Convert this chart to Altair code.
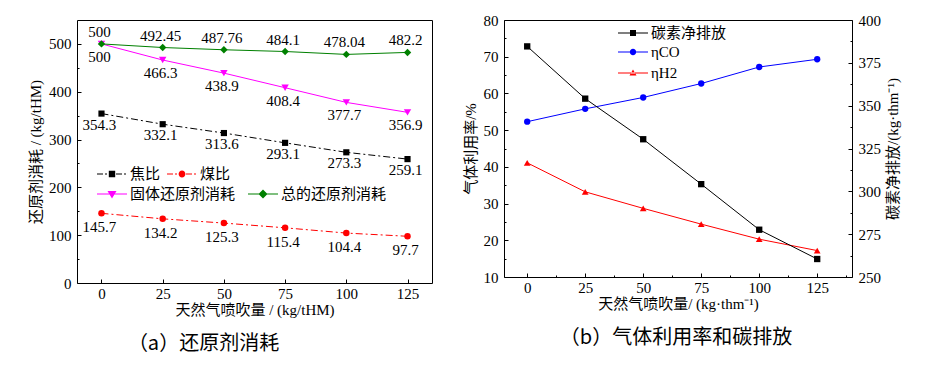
import math
import altair as alt
import pandas as pd

SERIF = "Liberation Serif"
CJK = "Noto Sans CJK SC"
MIX = "Liberation Serif, Noto Sans CJK SC"

# ---------------- data: panel (a) ----------------
ng = [0, 25, 50, 75, 100, 125]
coke_ratio = [354.3, 332.1, 313.6, 293.1, 273.3, 259.1]
coal_ratio = [145.7, 134.2, 125.3, 115.4, 104.4, 97.7]
solid_cons = [500, 466.3, 438.9, 408.4, 377.7, 356.9]
total_cons = [500, 492.45, 487.76, 484.1, 478.04, 482.2]
names_a = ["焦比", "煤比", "固体还原剂消耗", "总的还原剂消耗"]
yticks_a = [0, 100, 200, 300, 400, 500]
yminor_a = [50, 150, 250, 350, 450]

# ---------------- data: panel (b) ----------------
carbon_net = [384.6, 354.1, 330.4, 304.2, 277.6, 260.5]
eta_co = [52.3, 55.8, 58.9, 62.7, 67.2, 69.3]
eta_h2 = [41.1, 33.2, 28.7, 24.4, 20.3, 17.2]
names_b = ["碳素净排放", "ηCO", "ηH2"]
yticks_b_left = [10, 20, 30, 40, 50, 60, 70, 80]
yminor_b_left = [15, 25, 35, 45, 55, 65, 75]
yticks_b_right = [250, 275, 300, 325, 350, 375, 400]
yminor_b_right = [262.5, 287.5, 312.5, 337.5, 362.5, 387.5]
xminor_b = [12.5, 37.5, 62.5, 87.5, 112.5, 137.5]

# legend symbol geometry (pixel units inside a 30px symbol box)
R = 15.0


def u(p):
    return f"{p / R:.3f}"


def seg(x0, x1, h=0.55):
    return f"M{u(x0)},{u(-h)}H{u(x1)}V{u(h)}H{u(x0)}Z"


def poly(n, r, start=0.0):
    pts = []
    for i in range(n):
        a = start + 2 * math.pi * i / n
        pts.append(f"{u(r * math.cos(a))},{u(r * math.sin(a))}")
    return "M" + "L".join(pts) + "Z"


def square(h):
    return f"M{u(-h)},{u(-h)}H{u(h)}V{u(h)}H{u(-h)}Z"


SOLID = seg(-15, 15)
DASHDOT = seg(-15, -9) + seg(-7, -5) + seg(4, 10) + seg(12, 14)

style_a = {
    "焦比": dict(color="#000000", dash=[7, 3, 2, 3], shape="square", size=38, dy=11,
               leg=DASHDOT + square(3.2)),
    "煤比": dict(color="#FF0000", dash=[7, 3, 2, 3], shape="circle", size=42, dy=14,
               leg=DASHDOT + poly(16, 3.4)),
    "固体还原剂消耗": dict(color="#FF00FF", dash=None, shape="triangle-down", size=55, dy=13,
                    leg=SOLID + f"M{u(-4.5)},{u(-3)}H{u(4.5)}L0,{u(4.5)}Z"),
    "总的还原剂消耗": dict(color="#008000", dash=None, shape="diamond", size=55, dy=-12,
                    leg=SOLID + f"M0,{u(-4.5)}L{u(4.5)},0L0,{u(4.5)}L{u(-4.5)},0Z"),
}
style_b = {
    "碳素净排放": dict(color="#000000", shape="square", size=40, leg=SOLID + square(3), ly=-2),
    "ηCO": dict(color="#0000FF", shape="circle", size=40, leg=SOLID + poly(16, 3.2), ly=17),
    "ηH2": dict(color="#FF0000", shape="triangle-up", size=45,
                leg=SOLID + f"M{u(-3.5)},{u(2.6)}H{u(3.5)}L0,{u(-3.4)}Z", ly=38),
}

rows = []
for name, vals in zip(names_a, [coke_ratio, coal_ratio, solid_cons, total_cons]):
    for x, v in zip(ng, vals):
        rows.append({"x": x, "v": v, "s": name, "lab": f"{v:g}"})
df_a = pd.DataFrame(rows)

rows = []
for name, vals in zip(names_b, [carbon_net, eta_co, eta_h2]):
    for x, v in zip(ng, vals):
        rows.append({"x": x, "v": v, "s": name})
df_b = pd.DataFrame(rows)

MINOR = dict(labels=False, title=None, tickSize=2, offset=-2, domain=False, grid=False)


def legend_layer(df, names, style, x, y, lx, ly, col_pad=8, font=CJK):
    leg = alt.Legend(title=None, orient="none", legendX=lx, legendY=ly, direction="horizontal",
                     symbolSize=900, symbolStrokeWidth=0, symbolOpacity=1, labelFont=font,
                     labelFontSize=15, labelColor="black", labelOffset=3, columnPadding=col_pad)
    return alt.Chart(df).transform_filter("datum.x < -1000").mark_point(filled=True, opacity=1).encode(
        x=x, y=y,
        color=alt.Color("s:N", scale=alt.Scale(domain=names, range=[style[n]["color"] for n in names]),
                        legend=leg),
        shape=alt.Shape("s:N", scale=alt.Scale(domain=names, range=[style[n]["leg"] for n in names]),
                        legend=leg),
    )


# ---------------- panel (a) ----------------
sx_a = alt.Scale(domain=[-10, 135], nice=False, zero=False)
sy_a = alt.Scale(domain=[0, 550], nice=False, zero=False)
xa = alt.X("x:Q", scale=sx_a, axis=alt.Axis(values=ng, title="天然气喷吹量 / (kg/tHM)", orient="bottom"))
ya = alt.Y("v:Q", scale=sy_a, axis=alt.Axis(values=yticks_a, title="还原剂消耗 / (kg/tHM)", orient="left"))

layers_a = []
for name in names_a:
    st = style_a[name]
    base = alt.Chart(df_a).transform_filter(alt.datum.s == name)
    lk = dict(color=st["color"], strokeWidth=1)
    if st["dash"]:
        lk["strokeDash"] = st["dash"]
    layers_a.append(base.mark_line(**lk).encode(x=xa, y=ya))
    layers_a.append(base.mark_point(filled=True, opacity=1, color=st["color"], shape=st["shape"],
                                    size=st["size"]).encode(x=xa, y=ya))
    layers_a.append(base.mark_text(font=SERIF, fontSize=15, color="black", dx=-2, dy=st["dy"])
                    .encode(x=xa, y=ya, text="lab:N"))

legend_a = alt.layer(
    legend_layer(df_a, names_a[:2], style_a, xa, ya, 20, 139, 6),
    legend_layer(df_a, names_a[2:], style_a, xa, ya, 20, 159, 12),
).resolve_scale(color="independent", shape="independent")

minor_a = alt.Chart(df_a).transform_filter("datum.x < -1000").mark_point(opacity=0).encode(
    x=xa,
    y=alt.Y("v:Q", scale=sy_a, axis=alt.Axis(values=yminor_a, orient="left", **MINOR)),
)

left = alt.layer(alt.layer(*layers_a, legend_a), minor_a).resolve_axis(y="independent").properties(
    width=355, height=263,
    title=alt.TitleParams("（a）还原剂消耗", orient="bottom", anchor="middle", dx=-51, offset=17,
                          font=CJK, fontSize=20, fontWeight="normal", color="black"))

# ---------------- panel (b) ----------------
sx_b = alt.Scale(domain=[-10, 140], nice=False, zero=False)
sy_bl = alt.Scale(domain=[10, 80], nice=False, zero=False)
sy_br = alt.Scale(domain=[250, 400], nice=False, zero=False)
xb = alt.X("x:Q", scale=sx_b, axis=alt.Axis(values=ng, title="天然气喷吹量/ (kg·thm⁻¹)", orient="bottom"))
xb_noaxis = alt.X("x:Q", scale=sx_b, axis=None)
yb_l = alt.Y("v:Q", scale=sy_bl, axis=alt.Axis(values=yticks_b_left, title="气体利用率/%", orient="left"))
yb_r = alt.Y("v:Q", scale=sy_br,
             axis=alt.Axis(orient="right", values=yticks_b_right, title="碳素净排放/(kg·thm⁻¹)",
                           titleAngle=270, titleBaseline="top"))


def series_layers(name, x, y):
    st = style_b[name]
    base = alt.Chart(df_b).transform_filter(alt.datum.s == name)
    return [base.mark_line(color=st["color"], strokeWidth=1).encode(x=x, y=y),
            base.mark_point(filled=True, opacity=1, color=st["color"], shape=st["shape"],
                            size=st["size"]).encode(x=x, y=y)]


legend_b = alt.layer(
    *[legend_layer(df_b, [n], style_b, xb, yb_l, 114, style_b[n]["ly"], font=MIX) for n in names_b]
).resolve_scale(color="independent", shape="independent")

minor_bl = alt.Chart(df_b).transform_filter("datum.x < -1000").mark_point(opacity=0).encode(
    x=alt.X("x:Q", scale=sx_b, axis=alt.Axis(values=xminor_b, orient="bottom", **MINOR)),
    y=alt.Y("v:Q", scale=sy_bl, axis=alt.Axis(values=yminor_b_left, orient="left", **MINOR)),
)
minor_br = alt.Chart(df_b).transform_filter("datum.x < -1000").mark_point(opacity=0).encode(
    x=xb_noaxis,
    y=alt.Y("v:Q", scale=sy_br, axis=alt.Axis(values=yminor_b_right, orient="right", **MINOR)),
)

left_group = alt.layer(
    alt.layer(*series_layers("ηCO", xb, yb_l), *series_layers("ηH2", xb, yb_l), legend_b), minor_bl
).resolve_axis(y="independent", x="independent")
right_group = alt.layer(alt.layer(*series_layers("碳素净排放", xb_noaxis, yb_r)), minor_br).resolve_axis(
    y="independent")

right = alt.layer(left_group, right_group).resolve_scale(y="independent").properties(
    width=348, height=257,
    title=alt.TitleParams("（b）气体利用率和碳排放", orient="bottom", anchor="middle", dx=-2, offset=17,
                          font=CJK, fontSize=20, fontWeight="normal", color="black"))

chart = alt.hconcat(left, right, spacing=72, bounds="flush").resolve_scale(
    color="independent", shape="independent"
).properties(
    padding={"left": 20, "top": 4, "right": 5, "bottom": 5}
).configure_view(stroke="black", strokeWidth=1).configure_axis(
    domain=False, grid=False, ticks=True, tickSize=4, tickColor="black", tickWidth=1, offset=-4,
    labelFont=SERIF, labelFontSize=15, labelColor="black",
    titleFont=MIX, titleFontSize=15, titleFontWeight="normal", titleColor="black",
).configure_axisX(labelPadding=3, titlePadding=1).configure_axisY(labelPadding=6, titlePadding=5)

chart.save("out.html", embed_options={"renderer": "svg", "actions": False})
